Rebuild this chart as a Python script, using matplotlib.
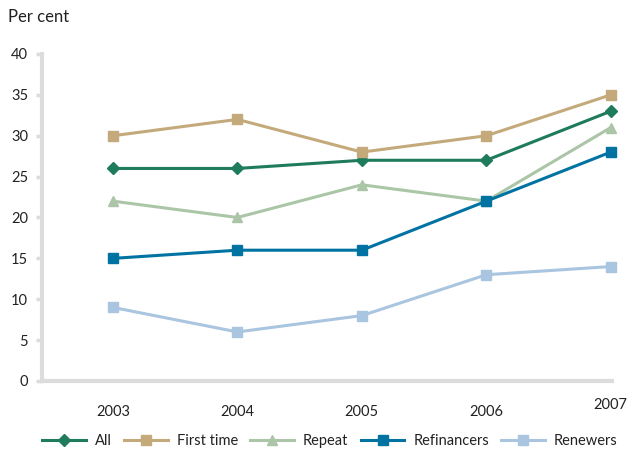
import matplotlib
matplotlib.use("Agg")
import matplotlib.pyplot as plt
import matplotlib.transforms as mtransforms

plt.rcParams['font.family'] = ['Lato', 'DejaVu Sans']

years = [2003, 2004, 2005, 2006, 2007]
year_labels = ['2003', '2004', '2005', '2006', '2007']
all_borrowers = [26, 26, 27, 27, 33]
first_time = [30, 32, 28, 30, 35]
repeat = [22, 20, 24, 22, 31]
refinancers = [15, 16, 16, 22, 28]
renewers = [9, 6, 8, 13, 14]
yticks = [0, 5, 10, 15, 20, 25, 30, 35, 40]

fig = plt.figure(figsize=(6.27, 4.54), dpi=100)
ax = fig.add_axes([42/627, 73/454, 570/627, 327/454])

series = [
    ('All', all_borrowers, '#1e7b5c', 'D', 6),
    ('First time', first_time, '#c4aa7b', 's', 6.5),
    ('Repeat', repeat, '#abc6a7', '^', 7),
    ('Refinancers', refinancers, '#0073a3', 's', 6.5),
    ('Renewers', renewers, '#a9c5df', 's', 6.5),
]
for name, vals, col, mk, ms in series:
    ax.plot(years, vals, color=col, lw=2.2, marker=mk, ms=ms, label=name,
            clip_on=False, zorder=3)

ax.set_ylim(0, 40)
ax.set_xlim(2002.43, 2007.01)
ax.set_yticks(yticks)
ax.set_xticks(years)
ax.set_xticklabels(year_labels)
for s in ['top', 'right']:
    ax.spines[s].set_visible(False)
for s in ['left', 'bottom']:
    ax.spines[s].set_color('#dcdcdc')
    ax.spines[s].set_linewidth(3)
ax.tick_params(axis='y', colors='#dcdcdc', length=4, width=2.5, labelcolor='#222222',
               labelsize=10.5, pad=6)
ax.tick_params(axis='x', length=0, labelcolor='#222222', labelsize=10.5, pad=17)
last = ax.get_xticklabels()[-1]
last.set_transform(last.get_transform() + mtransforms.ScaledTranslation(0, 7/100, fig.dpi_scale_trans))

fig.text(8/627, 1 - 17/454, 'Per cent', fontsize=12, color='#222222', va='center', ha='left')

leg = fig.legend(loc='center', bbox_to_anchor=(330/627, 1 - 441/454), ncol=5, frameon=False,
                 fontsize=10.5, handlelength=3.0, columnspacing=0.85, handletextpad=0.6,
                 borderaxespad=0)
for t in leg.get_texts():
    t.set_color('#222222')

fig.savefig('out.png', dpi=100)
